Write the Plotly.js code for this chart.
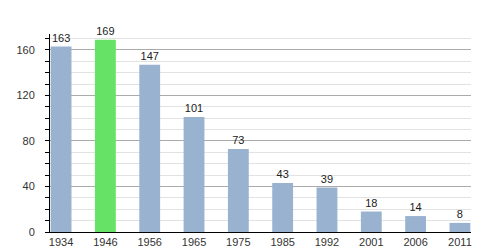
<!DOCTYPE html>
<html>
<head>
<meta charset="utf-8">
<script src="https://cdn.plot.ly/plotly-3.0.1.min.js"></script>
<style>html,body{margin:0;padding:0;background:#fff;}#chart{width:500px;height:250px;}</style>
</head>
<body>
<div id="chart"></div>
<script>
const years = ["1934","1946","1956","1965","1975","1985","1992","2001","2006","2011"];
const population = [163,169,147,101,73,43,39,18,14,8];
const highlightYear = "1946";
const baseColor = "#98b2d0";
const highlightColor = "#66e266";

const colors = years.map(y => y === highlightYear ? highlightColor : baseColor);

const trace = {
  type: "bar",
  x: years,
  y: population,
  marker: {color: colors, line: {width: 0}},
  text: population.map(String),
  textposition: "outside",
  textfont: {family: "Liberation Sans, Arial, sans-serif", size: 11, color: "#222"},
  cliponaxis: false,
  hoverinfo: "none"
};

const layout = {
  width: 500, height: 250,
  margin: {l: 50, r: 29, t: 34, b: 18},
  paper_bgcolor: "#fff", plot_bgcolor: "#fff",
  showlegend: false,
  bargap: 0.53,
  font: {family: "Liberation Sans, Arial, sans-serif", size: 11, color: "#333"},
  xaxis: {
    type: "category",
    range: [-0.25, 9.25],
    showline: true, linecolor: "#000", linewidth: 1,
    ticks: "", showgrid: false, zeroline: false,
    tickfont: {size: 11, color: "#333"}
  },
  yaxis: {
    range: [0, 174],
    tickvals: [0, 40, 80, 120, 160],
    showline: true, linecolor: "#000", linewidth: 1,
    ticks: "outside", ticklen: 4, tickcolor: "#000",
    showgrid: true, gridcolor: "#aaaaaa", gridwidth: 1,
    zeroline: false,
    ticklabelstandoff: 8,
    tickfont: {size: 11, color: "#333"},
    minor: {dtick: 10, showgrid: true, gridcolor: "#e2e2e2", gridwidth: 1, ticks: "outside", ticklen: 4, tickcolor: "#000"}
  }
};

Plotly.newPlot("chart", [trace], layout, {displayModeBar: false, staticPlot: true});
</script>
</body>
</html>
